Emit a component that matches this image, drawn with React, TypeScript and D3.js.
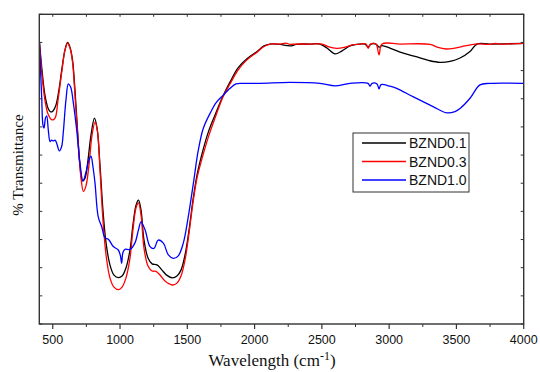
import React from "react";
import * as d3 from "d3";

// [wavenumber (cm^-1), % transmittance (arbitrary scale 0-100)]
const bznd01: [number, number][] = [
  [400, 91.7], [420, 82.0], [442, 73.9], [465, 69.7], [483, 68.5], [502, 68.8], [524, 70.7],
  [546, 75.6], [569, 82.7], [591, 88.5], [610, 90.9], [628, 89.4], [647, 85.2], [665, 75.6],
  [684, 62.6], [702, 51.3], [721, 46.2], [740, 47.1], [762, 53.0], [784, 61.0], [810, 66.5],
  [829, 63.3], [851, 51.3], [873, 36.8], [896, 26.2], [925, 19.1], [955, 15.8], [989, 15.0],
  [1015, 15.5], [1044, 18.1], [1074, 23.9], [1096, 32.0], [1119, 38.4], [1137, 40.0],
  [1156, 36.8], [1178, 27.1], [1208, 21.3], [1238, 19.4], [1275, 19.1], [1312, 17.4],
  [1349, 15.7], [1390, 14.9], [1423, 15.5], [1453, 17.4], [1483, 22.3], [1513, 30.4],
  [1542, 40.0], [1572, 48.1], [1617, 56.2], [1661, 62.6], [1706, 67.5], [1765, 73.6],
  [1817, 78.1], [1877, 82.7], [1941, 85.6], [2016, 87.9], [2070, 89.8], [2115, 90.4],
  [2189, 90.3], [2241, 89.9], [2276, 89.8], [2308, 90.3], [2412, 90.4], [2486, 90.4],
  [2538, 89.1], [2598, 87.2], [2650, 88.2], [2709, 89.8], [2783, 90.4], [2821, 90.4],
  [2843, 89.4], [2865, 90.4], [2902, 90.4], [2925, 89.4], [2947, 89.9], [3006, 89.1],
  [3081, 87.8], [3192, 86.4], [3304, 85.0], [3378, 84.5], [3452, 84.8], [3527, 85.9],
  [3601, 88.0], [3653, 90.4], [3750, 90.4], [4000, 90.6],
];

const bznd03: [number, number][] = [
  [400, 91.1], [420, 80.4], [442, 72.3], [465, 67.8], [494, 65.9], [517, 66.5], [539, 72.3],
  [569, 82.0], [591, 88.5], [610, 90.7], [628, 89.1], [647, 84.6], [665, 73.9], [688, 59.4],
  [710, 47.1], [728, 42.8], [747, 44.6], [769, 51.3], [792, 61.0], [814, 65.2], [833, 62.0],
  [851, 49.7], [873, 33.6], [896, 22.3], [925, 14.9], [955, 11.9], [989, 11.1], [1015, 11.9],
  [1044, 14.9], [1074, 21.3], [1096, 30.4], [1119, 37.5], [1137, 39.1], [1156, 35.2],
  [1178, 24.5], [1208, 18.7], [1238, 17.1], [1267, 17.0], [1297, 15.8], [1334, 13.9],
  [1390, 12.6], [1423, 13.2], [1453, 15.5], [1483, 20.7], [1513, 29.4], [1542, 39.1],
  [1572, 47.1], [1617, 54.6], [1661, 61.0], [1706, 66.5], [1765, 73.3], [1817, 77.5],
  [1877, 82.0], [1941, 85.2], [2016, 87.7], [2070, 89.6], [2115, 90.4], [2189, 90.4],
  [2233, 90.7], [2263, 90.3], [2308, 90.4], [2412, 90.4], [2501, 90.4], [2546, 89.6],
  [2610, 89.0], [2672, 89.4], [2724, 90.1], [2783, 90.4], [2828, 90.4], [2845, 89.0],
  [2861, 90.4], [2902, 90.4], [2925, 86.9], [2947, 90.4], [3081, 90.4], [3304, 90.3],
  [3356, 89.4], [3423, 88.8], [3489, 89.1], [3564, 89.8], [3638, 90.4], [3750, 90.3],
  [3787, 90.6], [3824, 90.4], [4000, 90.6],
];

const bznd10: [number, number][] = [
  [400, 91.7], [409, 82.0], [418, 73.0], [427, 64.3], [435, 63.3], [446, 66.5], [455, 67.2],
  [467, 62.6], [480, 58.9], [491, 59.4], [504, 59.1], [517, 59.4], [529, 58.4], [549, 55.9],
  [566, 57.3], [578, 61.7], [598, 72.3], [616, 77.5], [633, 76.5], [653, 71.4], [678, 62.6],
  [702, 52.0], [725, 46.2], [747, 49.1], [769, 53.0], [784, 54.2], [799, 50.7], [814, 45.5],
  [838, 34.6], [864, 31.4], [888, 27.8], [913, 27.4], [950, 25.0], [987, 23.9], [1003, 22.0],
  [1012, 19.6], [1022, 23.2], [1037, 24.1], [1074, 24.1], [1111, 26.2], [1137, 30.4],
  [1156, 33.0], [1186, 30.4], [1223, 25.0], [1252, 24.4], [1284, 27.1], [1322, 26.1],
  [1359, 22.3], [1396, 21.2], [1433, 22.0], [1470, 26.1], [1507, 34.6], [1545, 45.4],
  [1582, 56.2], [1619, 63.2], [1669, 68.0], [1713, 71.4], [1767, 73.9], [1817, 76.1],
  [1862, 77.5], [1906, 77.7], [2040, 77.7], [2263, 78.0], [2486, 77.7], [2598, 76.9],
  [2709, 77.7], [2843, 77.7], [2858, 76.8], [2873, 77.7], [2910, 77.5], [2925, 75.9],
  [2940, 77.3], [3006, 76.8], [3056, 76.1], [3177, 73.4], [3326, 70.2], [3428, 68.2],
  [3489, 68.6], [3527, 69.6], [3601, 72.9], [3675, 77.2], [3750, 77.7], [4000, 77.7],
];

const seriesNames = ["BZND0.1", "BZND0.3", "BZND1.0"];
const seriesColors = ["#000000", "#ff0000", "#0000ff"];
const seriesData = [bznd01, bznd03, bznd10];

const xMajorTicks = [500, 1000, 1500, 2000, 2500, 3000, 3500, 4000];
const xMinorTicks = [750, 1250, 1750, 2250, 2750, 3250, 3750];
const xDomain = [400, 4000];
const yDomain = [0, 100];
const yTickCount = 11;

export default function App() {
  const W = 540, H = 372;
  const left = 39.3, right = 523.7, top = 14.3, bottom = 324;
  const x = d3.scaleLinear().domain(xDomain).range([left, right]);
  const y = d3.scaleLinear().domain(yDomain).range([bottom, top]);
  const line = d3
    .line<[number, number]>()
    .x((d) => x(d[0]))
    .y((d) => y(d[1]))
    .curve(d3.curveCatmullRom.alpha(0.5));
  const yTicks = d3.range(0, yTickCount + 1).map((i) => (i * 100) / yTickCount);
  const axisColor = "#333";
  const topTicks = [...xMajorTicks, ...xMinorTicks];

  return (
    <svg
      width={W}
      height={H}
      style={{ position: "absolute", left: 0, top: 0, background: "#fff" }}
    >
      <defs>
        <clipPath id="plot">
          <rect x={left} y={top} width={right - left} height={bottom - top} />
        </clipPath>
      </defs>
      <g clipPath="url(#plot)">
        {seriesData.map((d, i) => (
          <path key={i} d={line(d) || ""} fill="none" stroke={seriesColors[i]} strokeWidth={1.3} />
        ))}
      </g>
      {/* frame */}
      <rect x={left} y={top} width={right - left} height={bottom - top} fill="none" stroke={axisColor} strokeWidth={1.4} />
      {/* bottom ticks */}
      {xMajorTicks.map((t) => (
        <g key={"b" + t}>
          <line x1={x(t)} x2={x(t)} y1={bottom} y2={bottom + 5} stroke={axisColor} strokeWidth={1.2} />
          <text x={x(t)} y={344} textAnchor="middle" fontFamily="Liberation Sans, Arial, sans-serif" fontSize={12.5} fill="#111">
            {t}
          </text>
        </g>
      ))}
      {xMinorTicks.map((t) => (
        <line key={"bm" + t} x1={x(t)} x2={x(t)} y1={bottom} y2={bottom + 3} stroke={axisColor} strokeWidth={1} />
      ))}
      {/* top ticks */}
      {topTicks.map((t) => (
        <line key={"t" + t} x1={x(t)} x2={x(t)} y1={top} y2={top + 2.5} stroke={axisColor} strokeWidth={1} />
      ))}
      {/* left/right ticks */}
      {yTicks.map((t, i) => (
        <g key={"y" + i}>
          <line x1={left} x2={left + 3} y1={y(t)} y2={y(t)} stroke={axisColor} strokeWidth={1} />
          <line x1={right - 3} x2={right} y1={y(t)} y2={y(t)} stroke={axisColor} strokeWidth={1} />
        </g>
      ))}
      {/* axis titles */}
      <text x={272} y={366} textAnchor="middle" fontFamily="Liberation Serif, Times New Roman, serif" fontSize={17} fill="#111">
        Wavelength (cm
        <tspan dy={-6} fontSize={12}>-1</tspan>
        <tspan dy={6}>)</tspan>
      </text>
      <text
        transform={`translate(23,165) rotate(-90)`}
        textAnchor="middle"
        fontFamily="Liberation Serif, Times New Roman, serif"
        fontSize={15}
        fill="#111"
      >
        % Transmittance
      </text>
      {/* legend */}
      <rect x={353} y={133} width={116} height={59} fill="#fff" stroke={axisColor} strokeWidth={1} />
      {seriesNames.map((n, i) => {
        const ly = 143 + i * 18.5;
        return (
          <g key={n}>
            <line x1={362} x2={406} y1={ly} y2={ly} stroke={seriesColors[i]} strokeWidth={1.3} />
            <text x={409} y={ly + 5} fontFamily="Liberation Sans, Arial, sans-serif" fontSize={14} fill="#111">
              {n}
            </text>
          </g>
        );
      })}
    </svg>
  );
}
